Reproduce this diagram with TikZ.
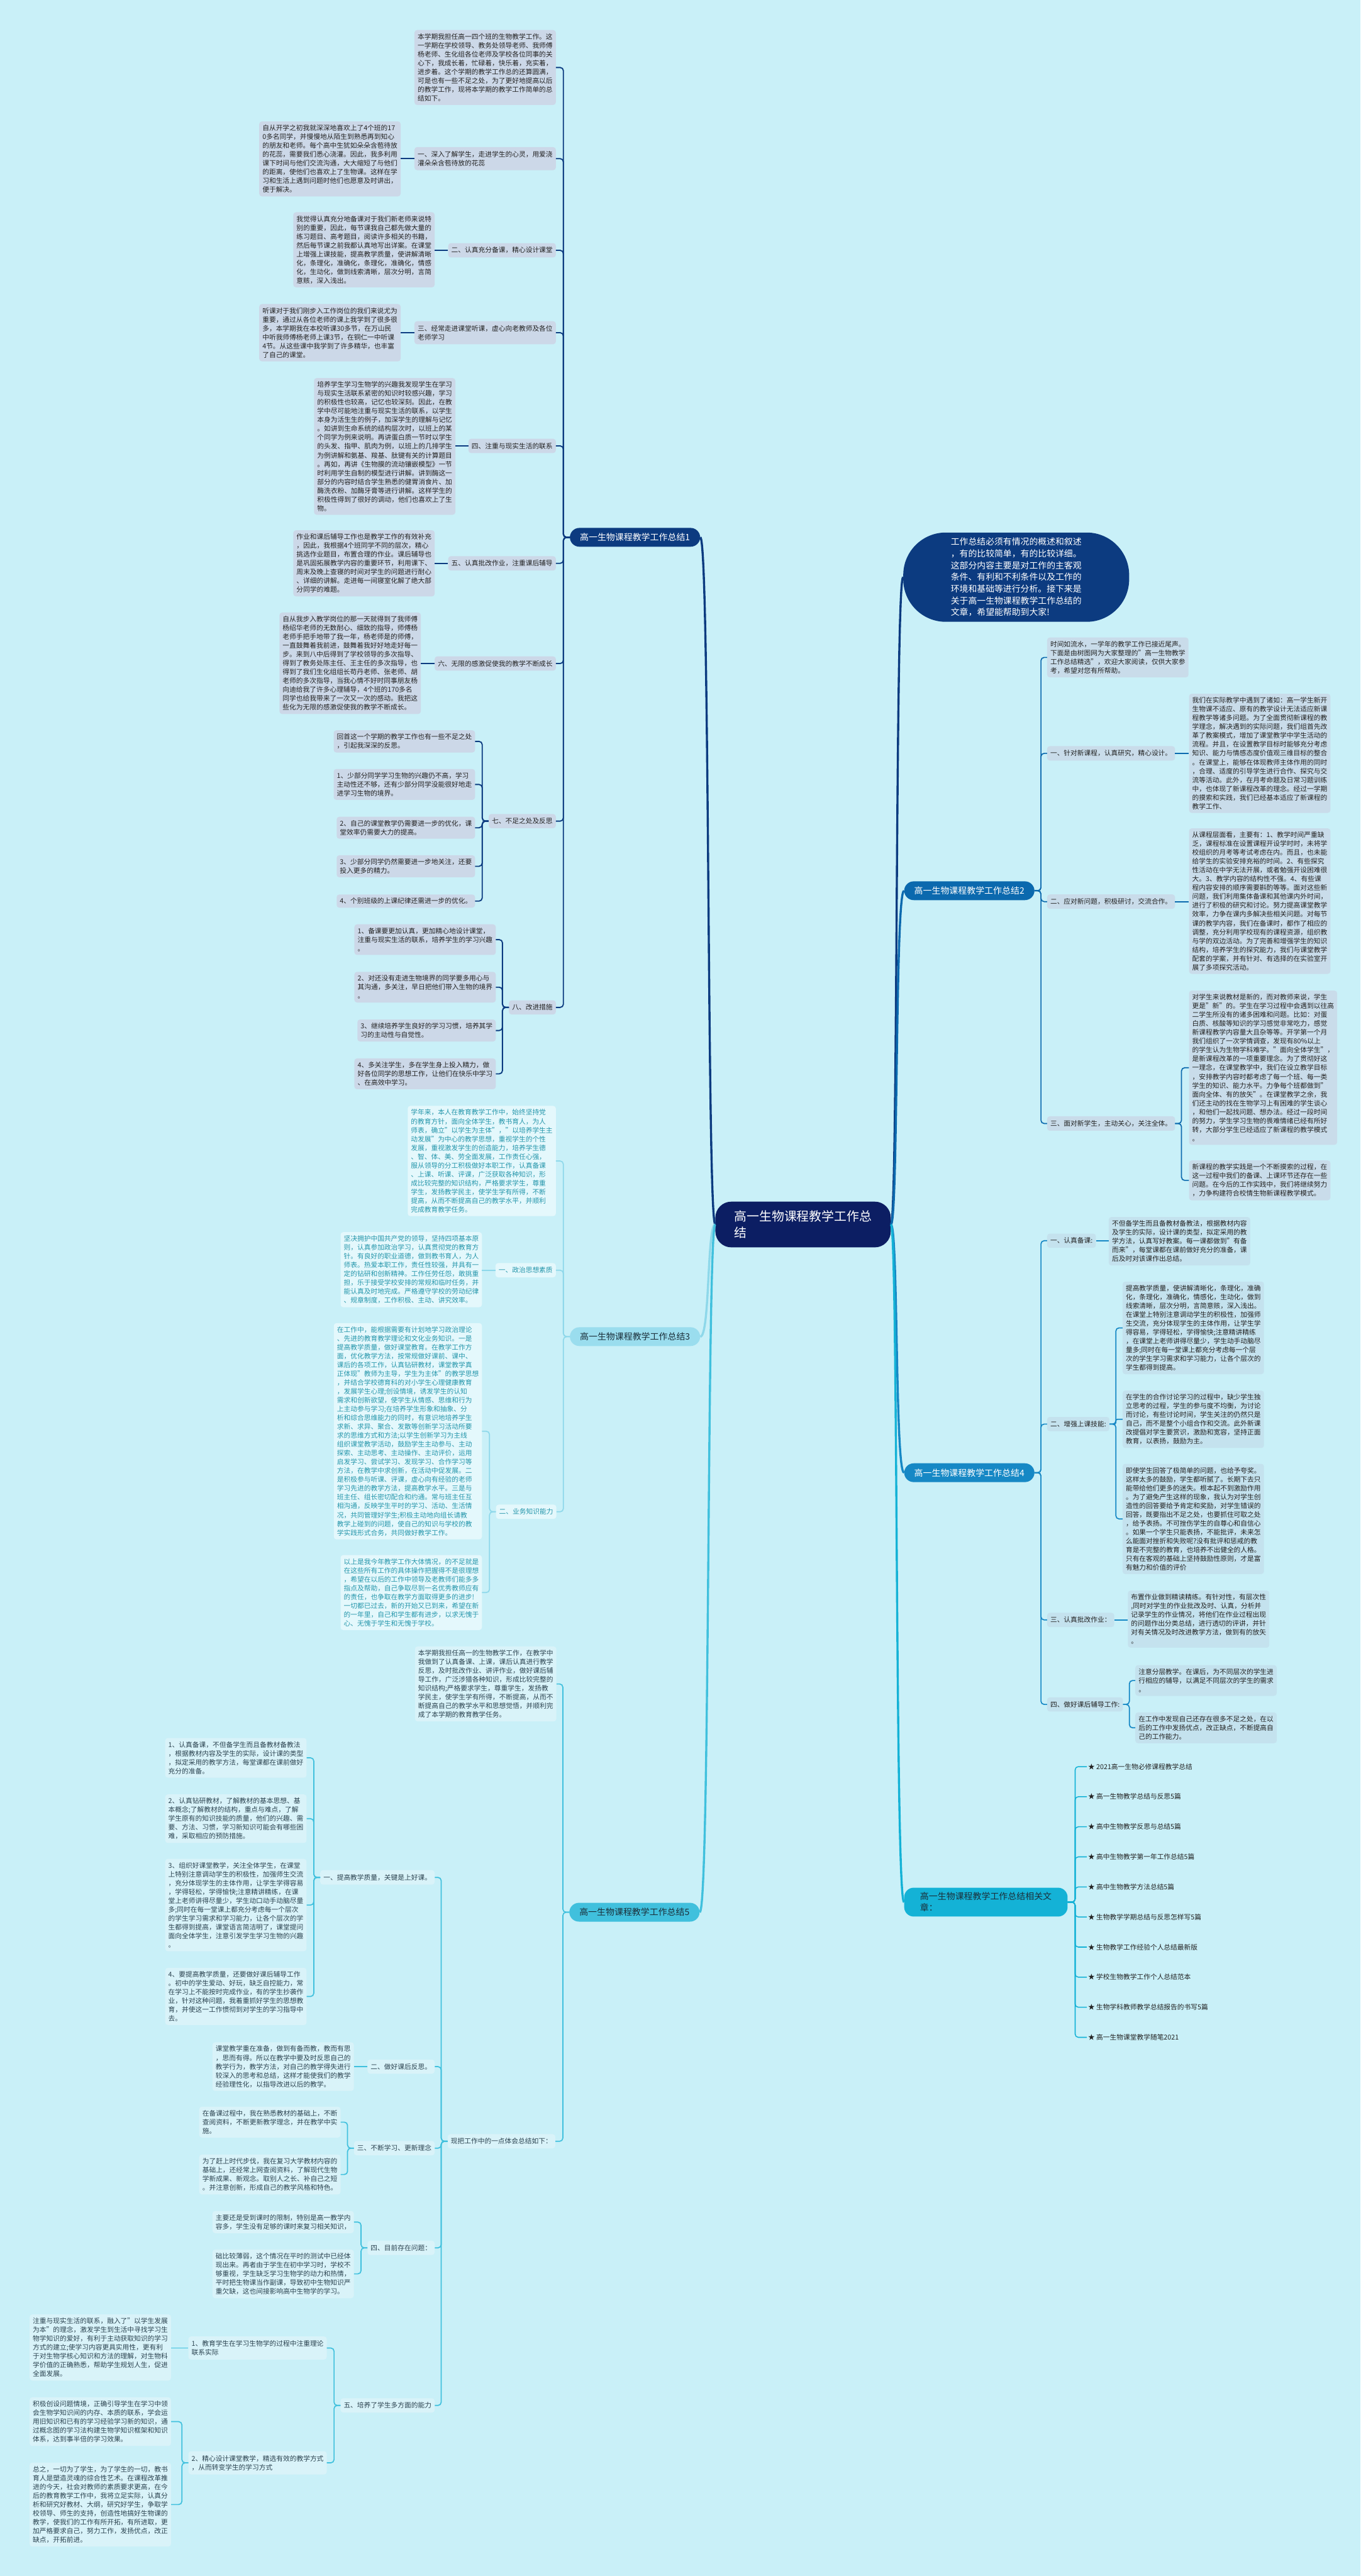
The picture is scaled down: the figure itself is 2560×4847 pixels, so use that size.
\documentclass[tikz,border=0pt]{standalone}
\usepackage{fontspec}
\setmainfont{Noto Sans CJK SC}
\usetikzlibrary{calc}
\definecolor{bg}{HTML}{C9F0F8}
\definecolor{rootc}{HTML}{0C1E63}
\definecolor{c1}{HTML}{0C3B80}
\definecolor{c2}{HTML}{0B69AE}
\definecolor{c3}{HTML}{8ED8EA}
\definecolor{c3n}{HTML}{9ADDEE}
\definecolor{c4}{HTML}{1688C5}
\definecolor{c5}{HTML}{40C0DD}
\definecolor{c6}{HTML}{14B2D6}
\definecolor{f1}{HTML}{CCD8E8}
\definecolor{f2}{HTML}{C9DCEA}
\definecolor{f3}{HTML}{E4F8FC}
\definecolor{t3}{HTML}{2596AB}
\definecolor{f4}{HTML}{C4E2EE}
\definecolor{f5}{HTML}{D9F3F9}
\definecolor{t5}{HTML}{2B4350}
\definecolor{tdark}{HTML}{222222}
\definecolor{tnode}{HTML}{1B2F3A}
\newcommand{\Lc}[3]{\draw[#1] (#2.west) -- ++(-12,0) |- (#3.east);}
\newcommand{\Ls}[3]{\draw[#1] (#2.west) -- (#2.west -| #3.east);}
\newcommand{\Rc}[3]{\draw[#1] (#2.east) -- ++(12,0) |- (#3.west);}
\newcommand{\Rs}[3]{\draw[#1] (#2.east) -- (#2.east -| #3.west);}
\tikzset{
  every node/.style={font=\fontsize{12.7}{16.6}\selectfont},
  L/.style={anchor=east}, R/.style={anchor=west},
  tbox/.style={rounded corners=5, inner xsep=6, inner ysep=6.5, align=left},
  hbox/.style={rounded corners=5, inner xsep=6, inner ysep=7.5, align=left},
  B1/.style={tbox, fill=f1, text=tdark}, H1/.style={hbox, fill=f1, text=tdark},
  B2/.style={tbox, fill=f2, text=tdark}, H2/.style={hbox, fill=f2, text=tdark},
  B3/.style={tbox, fill=f3, text=t3}, H3/.style={hbox, fill=f3, text=t3},
  B4/.style={tbox, fill=f4, text=tdark}, H4/.style={hbox, fill=f4, text=tdark},
  B5/.style={tbox, fill=f5, text=t5}, H5/.style={hbox, fill=f5, text=t5},
  bnode/.style={rounded corners=18, inner xsep=19, inner ysep=10, anchor=west, align=left, font=\fontsize{16.5}{21}\selectfont},
  ln1/.style={draw=c1, line width=2.2, rounded corners=6},
  ln2/.style={draw=c2, line width=2, rounded corners=6},
  ln3/.style={draw=c3, line width=2, rounded corners=6},
  ln4/.style={draw=c4, line width=2, rounded corners=6},
  ln5/.style={draw=c5, line width=2, rounded corners=6},
  ln6/.style={draw=c6, line width=1.8, rounded corners=6},
  item/.style={anchor=west, inner xsep=2, inner ysep=3, text=tdark},
}
\begin{document}
\begin{tikzpicture}[x=1pt,y=-1pt]
\useasboundingbox (0,0) rectangle (2560,4847);
\fill[bg] (0,0) rectangle (2560,4847);

% ---------- root and intro ----------
\node[fill=rootc, text=white, rounded corners=30, minimum width=330, minimum height=86, align=left, font=\fontsize{23.5}{31}\selectfont] (root) at (1511,2304) {高一生物课程教学工作总\\结};
\node[fill=c1, text=white, rounded corners=80, minimum width=425, minimum height=168, align=left, font=\fontsize{16.4}{22.1}\selectfont] (intro) at (1912,1086) {工作总结必须有情况的概述和叙述\\，有的比较简单，有的比较详细。\\这部分内容主要是对工作的主客观\\条件、有利和不利条件以及工作的\\环境和基础等进行分析。接下来是\\关于高一生物课程教学工作总结的\\文章，希望能帮助到大家!};

% ---------- branch nodes ----------
\node[bnode, fill=c1, text=white] (b1) at (1072,1011) {高一生物课程教学工作总结1};
\node[bnode, fill=c3n, text=tnode] (b3) at (1072,2515) {高一生物课程教学工作总结3};
\node[bnode, fill=c5, text=tnode] (b5) at (1071,3598) {高一生物课程教学工作总结5};
\node[bnode, fill=c2, text=white] (b2) at (1701,1676) {高一生物课程教学工作总结2};
\node[bnode, fill=c4, text=white] (b4) at (1701,2771) {高一生物课程教学工作总结4};
\node[bnode, fill=c6, text=tnode, inner xsep=30, inner ysep=9] (b6) at (1701,3579) {高一生物课程教学工作总结相关文\\章：};

% ---------- branch 1 ----------
\node[B1,L] (A) at (1046,127) {本学期我担任高一四个班的生物教学工作。这\\一学期在学校领导、教务处领导老师、我师傅\\杨老师、生化组各位老师及学校各位同事的关\\心下，我成长着，忙碌着，快乐着，充实着，\\进步着。这个学期的教学工作总的还算圆满，\\可是也有一些不足之处，为了更好地提高以后\\的教学工作，现将本学期的教学工作简单的总\\结如下。};
\node[H1,L] (s1) at (1046,298.5) {一、深入了解学生，走进学生的心灵，用爱浇\\灌朵朵含苞待放的花蕊};
\node[B1,L] (s1c) at (754,299) {自从开学之初我就深深地喜欢上了4个班的17\\0多名同学，并慢慢地从陌生到熟悉再到知心\\的朋友和老师。每个高中生犹如朵朵含苞待放\\的花蕊，需要我们悉心浇灌。因此，我多利用\\课下时间与他们交流沟通，大大缩短了与他们\\的距离，使他们也喜欢上了生物课。这样在学\\习和生活上遇到问题时他们也愿意及时讲出，\\便于解决。};
\node[H1,L] (s2) at (1046,471) {二、认真充分备课，精心设计课堂};
\node[B1,L] (s2c) at (818,470) {我觉得认真充分地备课对于我们新老师来说特\\别的重要，因此，每节课我自己都先做大量的\\练习题目、高考题目，阅读许多相关的书籍，\\然后每节课之前我都认真地写出详案。在课堂\\上增强上课技能，提高教学质量，使讲解清晰\\化，条理化，准确化，条理化，准确化，情感\\化，生动化，做到线索清晰，层次分明，言简\\意赅，深入浅出。};
\node[H1,L] (s3) at (1046,626) {三、经常走进课堂听课，虚心向老教师及各位\\老师学习};
\node[B1,L] (s3c) at (754,626) {听课对于我们刚步入工作岗位的我们来说尤为\\重要，通过从各位老师的课上我学到了很多很\\多，本学期我在本校听课30多节，在万山民\\中听我师傅杨老师上课3节，在铜仁一中听课\\4节。从这些课中我学到了许多精华，也丰富\\了自己的课堂。};
\node[H1,L] (s4) at (1046,839) {四、注重与现实生活的联系};
\node[B1,L] (s4c) at (857,840) {培养学生学习生物学的兴趣我发现学生在学习\\与现实生活联系紧密的知识时较感兴趣，学习\\的积极性也较高，记忆也较深刻。因此，在教\\学中尽可能地注重与现实生活的联系，以学生\\本身为活生生的例子，加深学生的理解与记忆\\。如讲到生命系统的结构层次时，以班上的某\\个同学为例来说明。再讲蛋白质一节时以学生\\的头发、指甲、肌肉为例，以班上的几排学生\\为例讲解和氨基、羧基、肽键有关的计算题目\\。再如，再讲《生物膜的流动镶嵌模型》一节\\时利用学生自制的模型进行讲解。讲到酶这一\\部分的内容时结合学生熟悉的健胃消食片、加\\酶洗衣粉、加酶牙膏等进行讲解。这样学生的\\积极性得到了很好的调动，他们也喜欢上了生\\物。};
\node[H1,L] (s5) at (1046,1060) {五、认真批改作业，注重课后辅导};
\node[B1,L] (s5c) at (818,1060) {作业和课后辅导工作也是教学工作的有效补充\\，因此，我根据4个班同学不同的层次，精心\\挑选作业题目，布置合理的作业。课后辅导也\\是巩固拓展教学内容的重要环节，利用课下、\\周末及晚上查寝的时间对学生的问题进行耐心\\、详细的讲解。走进每一间寝室化解了绝大部\\分同学的难题。};
\node[H1,L] (s6) at (1046,1248.5) {六、无限的感激促使我的教学不断成长};
\node[B1,L] (s6c) at (792,1248) {自从我步入教学岗位的那一天就得到了我师傅\\杨绍华老师的无数耐心、细致的指导，师傅杨\\老师手把手地带了我一年，杨老师是的师傅，\\一直鼓舞着我前进，鼓舞着我好好地走好每一\\步。来到八中后得到了学校领导的多次指导、\\得到了教务处陈主任、王主任的多次指导，也\\得到了我们生化组组长苟丹老师、张老师、胡\\老师的多次指导，当我心情不好时同事朋友杨\\向迪给我了许多心理辅导，4个班的170多名\\同学也给我带来了一次又一次的感动。我把这\\些化为无限的感激促使我的教学不断成长。};
\node[H1,L] (s7) at (1046,1545) {七、不足之处及反思};
\node[B1,L] (q1) at (894,1395) {回首这一个学期的教学工作也有一些不足之处\\，引起我深深的反思。};
\node[B1,L] (q2) at (894,1476) {1、少部分同学学习生物的兴趣仍不高，学习\\主动性还不够，还有少部分同学没能很好地走\\进学习生物的境界。};
\node[B1,L] (q3) at (894,1557.5) {2、自己的课堂教学仍需要进一步的优化，课\\堂效率仍需要大力的提高。};
\node[B1,L] (q4) at (894,1630) {3、少部分同学仍然需要进一步地关注，还要\\投入更多的精力。};
\node[B1,L] (q5) at (894,1695.5) {4、个别班级的上课纪律还需进一步的优化。};
\node[H1,L] (s8) at (1046,1895.5) {八、改进措施};
\node[B1,L] (d1) at (933,1768) {1、备课要更加认真，更加精心地设计课堂，\\注重与现实生活的联系，培养学生的学习兴趣\\。};
\node[B1,L] (d2) at (933,1857.5) {2、对还没有走进生物境界的同学要多用心与\\其沟通，多关注，早日把他们带入生物的境界\\。};
\node[B1,L] (d3) at (933,1939) {3、继续培养学生良好的学习习惯，培养其学\\习的主动性与自觉性。};
\node[B1,L] (d4) at (933,2020.5) {4、多关注学生，多在学生身上投入精力，做\\好各位同学的思想工作，让他们在快乐中学习\\、在高效中学习。};

% ---------- branch 3 ----------
\node[B3,L] (t0) at (1046,2184.5) {学年来，本人在教育教学工作中，始终坚持党\\的教育方针，面向全体学生，教书育人，为人\\师表，确立"以学生为主体"，"以培养学生主\\动发展"为中心的教学思想，重视学生的个性\\发展，重视激发学生的创造能力，培养学生德\\、智、体、美、劳全面发展，工作责任心强，\\服从领导的分工积极做好本职工作，认真备课\\、上课、听课、评课，广泛获取各种知识，形\\成比较完整的知识结构，严格要求学生，尊重\\学生，发扬教学民主，使学生学有所得，不断\\提高，从而不断提高自己的教学水平，并顺利\\完成教育教学任务。};
\node[H3,L] (t1) at (1046,2390) {一、政治思想素质};
\node[B3,L] (t1c) at (907,2389) {坚决拥护中国共产党的领导，坚持四项基本原\\则，认真参加政治学习，认真贯彻党的教育方\\针。有良好的职业道德，做到教书育人，为人\\师表。热爱本职工作，责任性较强，并具有一\\定的钻研和创新精神。工作任劳任怨，敢挑重\\担，乐于接受学校安排的常规和临时任务，并\\能认真及时地完成。严格遵守学校的劳动纪律\\、规章制度，工作积极、主动、讲究效率。};
\node[H3,L] (t2) at (1047,2844.5) {二、业务知识能力};
\node[B3,L] (t2a) at (907,2693) {在工作中，能根据需要有计划地学习政治理论\\、先进的教育教学理论和文化业务知识。一是\\提高教学质量，做好课堂教育。在教学工作方\\面，优化教学方法，按常规做好课前、课中、\\课后的各项工作，认真钻研教材，课堂教学真\\正体现"教师为主导，学生为主体"的教学思想\\，并结合学校德育科的对小学生心理健康教育\\，发展学生心理;创设情境，诱发学生的认知\\需求和创新欲望，使学生从情感、思维和行为\\上主动参与学习;在培养学生形象和抽象、分\\析和综合思维能力的同时，有意识地培养学生\\求新、求异、聚合、发散等创新学习活动所要\\求的思维方式和方法;以学生创新学习为主线\\组织课堂教学活动，鼓励学生主动参与、主动\\探索、主动思考、主动操作、主动评价，运用\\启发学习、尝试学习、发现学习、合作学习等\\方法，在教学中求创新，在活动中促发展。二\\是积极参与听课、评课，虚心向有经验的老师\\学习先进的教学方法，提高教学水平。三是与\\班主任、组长密切配合和约通。常与班主任互\\相沟通，反映学生平时的学习、活动、生活情\\况，共同管理好学生;积极主动地向组长请教\\教学上碰到的问题，使自己的知识与学校的教\\学实践形式合务，共同做好教学工作。};
\node[B3,L] (t2b) at (907,2996.5) {以上是我今年教学工作大体情况，的不足就是\\在这些所有工作的具体操作把握得不是很理想\\，希望在以后的工作中领导及老教师们能多多\\指点及帮助，自己争取尽到一名优秀教师应有\\的责任，也争取在教学方面取得更多的进步!\\一切都已过去，新的开始又已到来，希望在新\\的一年里，自己和学生都有进步，以求无愧于\\心、无愧于学生和无愧于学校。};

% ---------- branch 5 ----------
\node[B5,L] (u0) at (1047,3168.5) {本学期我担任高一的生物教学工作，在教学中\\我做到了认真备课、上课，课后认真进行教学\\反思，及时批改作业、讲评作业，做好课后辅\\导工作，广泛涉猎各种知识，形成比较完整的\\知识结构;严格要求学生，尊重学生，发扬教\\学民主，使学生学有所得，不断提高，从而不\\断提高自己的教学水平和思想觉悟，并顺利完\\成了本学期的教育教学任务。};
\node[H5,L] (u1) at (1045,4029) {现把工作中的一点体会总结如下：};
\node[H5,L] (v1) at (818,3532.5) {一、提高教学质量，关键是上好课。};
\node[B5,L] (e1) at (577,3307.5) {1、认真备课，不但备学生而且备教材备教法\\，根据教材内容及学生的实际，设计课的类型\\，拟定采用的教学方法，每堂课都在课前做好\\充分的准备。};
\node[B5,L] (e2) at (577,3422) {2、认真钻研教材，了解教材的基本思想、基\\本概念;了解教材的结构，重点与难点，了解\\学生原有的知识技能的质量，他们的兴趣、需\\要、方法、习惯，学习新知识可能会有哪些困\\难，采取相应的预防措施。};
\node[B5,L] (e3) at (577,3584.5) {3、组织好课堂教学，关注全体学生，在课堂\\上特别注意调动学生的积极性，加强师生交流\\，充分体现学生的主体作用，让学生学得容易\\，学得轻松，学得愉快;注意精讲精练，在课\\堂上老师讲得尽量少，学生动口动手动脑尽量\\多;同时在每一堂课上都充分考虑每一个层次\\的学生学习需求和学习能力，让各个层次的学\\生都得到提高，课堂语言简洁明了，课堂提问\\面向全体学生，注意引发学生学习生物的兴趣\\。};
\node[B5,L] (e4) at (577,3756.5) {4、要提高教学质量，还要做好课后辅导工作\\。初中的学生爱动、好玩，缺乏自控能力，常\\在学习上不能按时完成作业，有的学生抄袭作\\业，针对这种问题，我着重抓好学生的思想教\\育，并使这一工作惯彻到对学生的学习指导中\\去。};
\node[H5,L] (v2) at (818,3888.5) {二、做好课后反思。};
\node[B5,L] (v2c) at (666,3888.5) {课堂教学重在准备，做到有备而教，教而有思\\，思而有得。所以在教学中要及时反思自己的\\教学行为，教学方法，对自己的教学得失进行\\较深入的思考和总结，这样才能使我们的教学\\经验理性化，以指导改进以后的教学。};
\node[H5,L] (v3) at (818,4042) {三、不断学习、更新理念};
\node[B5,L] (g1) at (641,3993) {在备课过程中，我在熟悉教材的基础上，不断\\查阅资料，不断更新教学理念，并在教学中实\\施。};
\node[B5,L] (g2) at (641,4091.5) {为了赶上时代步伐，我在复习大学教材内容的\\基础上，还经常上网查阅资料，了解现代生物\\学新成果、新观念。取别人之长、补自己之短\\。并注意创新，形成自己的教学风格和特色。};
\node[H5,L] (v4) at (818,4229.5) {四、目前存在问题：};
\node[B5,L] (p1) at (666,4181) {主要还是受到课时的限制，特别是高一教学内\\容多，学生没有足够的课时来复习相关知识，};
\node[B5,L] (p2) at (666,4278.5) {础比较薄弱，这个情况在平时的测试中已经体\\现出来。再者由于学生在初中学习时，学校不\\够重视，学生缺乏学习生物学的动力和热情，\\平时把生物课当作副课，导致初中生物知识严\\重欠缺，这也间接影响高中生物学的学习。};
\node[H5,L] (v5) at (818,4526) {五、培养了学生多方面的能力};
\node[H5,L] (h1) at (615,4418) {1、教育学生在学习生物学的过程中注重理论\\联系实际};
\node[B5,L] (h1c) at (322,4417) {注重与现实生活的联系，融入了"以学生发展\\为本"的理念，激发学生到生活中寻找学习生\\物学知识的爱好，有利于主动获取知识的学习\\方式的建立;使学习内容更具实用性，更有利\\于对生物学核心知识和方法的理解，对生物科\\学价值的正确熟悉，帮助学生规划人生，促进\\全面发展。};
\node[H5,L] (h2) at (615,4634) {2、精心设计课堂教学，精选有效的教学方式\\，从而转变学生的学习方式};
\node[B5,L] (i1) at (322,4556.5) {积极创设问题情境，正确引导学生在学习中领\\会生物学知识间的内存、本质的联系，学会运\\用旧知识和已有的学习经验学习新的知识，通\\过概念图的学习法构建生物学知识框架和知识\\体系，达到事半倍的学习效果。};
\node[B5,L] (i2) at (322,4712.5) {总之，一切为了学生，为了学生的一切，教书\\育人是塑造灵魂的综合性艺术。在课程改革推\\进的今天，社会对教师的素质要求更高，在今\\后的教育教学工作中，我将立足实际，认真分\\析和研究好教材、大纲，研究好学生，争取学\\校领导、师生的支持，创造性地搞好生物课的\\教学，使我们的工作有所开拓，有所进取，更\\加严格要求自己，努力工作，发扬优点，改正\\缺点，开拓前进。};

% ---------- branch 2 ----------
\node[B2,R] (j0) at (1970,1237) {时间如流水，一学年的教学工作已接近尾声。\\下面是由树图网为大家整理的"高一生物教学\\工作总结精选"，欢迎大家阅读，仅供大家参\\考，希望对您有所帮助。};
\node[H2,R] (j1) at (1970,1417.5) {一、针对新课程，认真研究，精心设计。};
\node[B2,R] (j1c) at (2237,1417.5) {我们在实际教学中遇到了诸如：高一学生新开\\生物课不适应、原有的教学设计无法适应新课\\程教学等诸多问题。为了全面贯彻新课程的教\\学理念，解决遇到的实际问题，我们组首先改\\革了教案模式，增加了课堂教学中学生活动的\\流程。并且，在设置教学目标时能够充分考虑\\知识、能力与情感态度价值观三维目标的整合\\。在课堂上，能够在体现教师主体作用的同时\\，合理、适度的引导学生进行合作、探究与交\\流等活动。此外，在月考命题及日常习题训练\\中，也体现了新课程改革的理念。经过一学期\\的摸索和实践，我们已经基本适应了新课程的\\教学工作、};
\node[H2,R] (j2) at (1970,1696.5) {二、应对新问题，积极研讨，交流合作。};
\node[B2,R] (j2c) at (2237,1695.5) {从课程层面看，主要有：1、教学时间严重缺\\乏，课程标准在设置课程开设学时时，未将学\\校组织的月考等考试考虑在内。而且，也未能\\给学生的实验安排充裕的时间。2、有些探究\\性活动在中学无法开展，或者勉强开设困难很\\大。3、教学内容的结构性不强。4、有些课\\程内容安排的顺序需要斟酌等等。面对这些新\\问题，我们利用集体备课和其他课内外时间，\\进行了积极的研究和讨论。努力提高课堂教学\\效率，力争在课内多解决些相关问题。对每节\\课的教学内容，我们在备课时，都作了相应的\\调整，充分利用学校现有的课程资源，组织教\\与学的双边活动。为了完善和增强学生的知识\\结构，培养学生的探究能力，我们与课堂教学\\配套的学案，并有针对、有选择的在实验室开\\展了多项探究活动。};
\node[H2,R] (j3) at (1970,2114) {三、面对新学生，主动关心，关注全体。};
\node[B2,R] (k1) at (2237,2009) {对学生来说教材是新的，而对教师来说，学生\\更是"新"的。学生在学习过程中会遇到以往高\\二学生所没有的诸多困难和问题。比如：对蛋\\白质、核酸等知识的学习感觉非常吃力，感觉\\新课程教学内容量大且杂等等。开学第一个月\\我们组织了一次学情调查，发现有80\%以上\\的学生认为生物学科难学。"面向全体学生"，\\是新课程改革的一项重要理念。为了贯彻好这\\一理念，在课堂教学中，我们在设立教学目标\\，安排教学内容时都考虑了每一个班、每一类\\学生的知识、能力水平。力争每个班都做到"\\面向全体、有的放矢"。在课堂教学之余，我\\们还主动的找在生物学习上有困难的学生谈心\\，和他们一起找问题、想办法。经过一段时间\\的努力，学生学习生物的畏难情绪已经有所好\\转，大部分学生已经适应了新课程的教学模式\\。};
\node[B2,R] (k2) at (2237,2221) {新课程的教学实践是一个不断摸索的过程，在\\这一过程中我们的备课、上课环节还存在一些\\问题。在今后的工作实践中，我们将继续努力\\，力争构建符合校情生物新课程教学模式。};

% ---------- branch 4 ----------
\node[H4,R] (l1) at (1970,2334.5) {一、认真备课:};
\node[B4,R] (l1c) at (2086,2335.5) {不但备学生而且备教材备教法，根据教材内容\\及学生的实际，设计课的类型，拟定采用的教\\学方法，认真写好教案。每一课都做到"有备\\而来"，每堂课都在课前做好充分的准备，课\\后及时对该课作出总结。};
\node[H4,R] (l2) at (1970,2679.5) {二、增强上课技能:};
\node[B4,R] (m1) at (2112,2498.5) {提高教学质量，使讲解清晰化，条理化，准确\\化，条理化，准确化，情感化，生动化，做到\\线索清晰，层次分明，言简意赅，深入浅出。\\在课堂上特别注意调动学生的积极性，加强师\\生交流，充分体现学生的主体作用，让学生学\\得容易，学得轻松，学得愉快;注意精讲精练\\，在课堂上老师讲得尽量少，学生动手动脑尽\\量多;同时在每一堂课上都充分考虑每一个层\\次的学生学习需求和学习能力，让各个层次的\\学生都得到提高。};
\node[B4,R] (m2) at (2112,2670.5) {在学生的合作讨论学习的过程中，缺少学生独\\立思考的过程，学生的参与度不均衡，为讨论\\而讨论，有些讨论时间，学生关注的仍然只是\\自己，而不是整个小组合作和交流。此外新课\\改提倡对学生要赏识，激励和宽容，坚持正面\\教育，以表扬，鼓励为主。};
\node[B4,R] (m3) at (2112,2858) {即使学生回答了极简单的问题，也给予夸奖。\\这样太多的鼓励，学生都听腻了。长期下去只\\能带给他们更多的迷失。根本起不到激励作用\\。为了避免产生这样的现象，我认为对学生创\\造性的回答要给予肯定和奖励，对学生错误的\\回答，既要指出不足之处，也要抓住可取之处\\，给予表扬。不可挫伤学生的自尊心和自信心\\。如果一个学生只能表扬，不能批评，未来怎\\么能面对挫折和失败呢?没有批评和惩戒的教\\育是不完整的教育，也培养不出健全的人格。\\只有在客观的基础上坚持鼓励性原则，才是富\\有魅力和价值的评价};
\node[H4,R] (l3) at (1970,3048) {三、认真批改作业：};
\node[B4,R] (l3c) at (2122,3046.5) {布置作业做到精读精练。有针对性，有层次性\\,同时对学生的作业批改及时、认真，分析并\\记录学生的作业情况，将他们在作业过程出现\\的问题作出分类总结，进行透切的评讲，并针\\对有关情况及时改进教学方法，做到有的放矢\\。};
\node[H4,R] (l4) at (1970,3207) {四、做好课后辅导工作:};
\node[B4,R] (n1) at (2136,3162) {注意分层教学。在课后，为不同层次的学生进\\行相应的辅导，以满足不同层次的学生的需求\\。};
\node[B4,R] (n2) at (2136,3251) {在工作中发现自己还存在很多不足之处，在以\\后的工作中发扬优点，改正缺点，不断提高自\\己的工作能力。};

% ---------- branch 6 ----------
\node[item] (it1) at (2045,3324) {★ 2021高一生物必修课程教学总结};
\node[item] (it2) at (2045,3380.6) {★ 高一生物教学总结与反思5篇};
\node[item] (it3) at (2045,3437.2) {★ 高中生物教学反思与总结5篇};
\node[item] (it4) at (2045,3493.8) {★ 高中生物教学第一年工作总结5篇};
\node[item] (it5) at (2045,3550.4) {★ 高中生物教学方法总结5篇};
\node[item] (it6) at (2045,3607) {★ 生物教学学期总结与反思怎样写5篇};
\node[item] (it7) at (2045,3663.6) {★ 生物教学工作经验个人总结最新版};
\node[item] (it8) at (2045,3720.2) {★ 学校生物教学工作个人总结范本};
\node[item] (it9) at (2045,3776.8) {★ 生物学科教师教学总结报告的书写5篇};
\node[item] (it10) at (2045,3833.4) {★ 高一生物课堂教学随笔2021};

% ---------- root connectors ----------
\draw[c1, line width=4] (root.west) .. controls (1330,2304) and (1336,1011) .. (b1.east);
\draw[c3, line width=4] (root.west) .. controls (1330,2304) and (1336,2515) .. (b3.east);
\draw[c5, line width=4] (root.west) .. controls (1330,2304) and (1336,3598) .. (b5.east);
\draw[c1, line width=4] (root.east) .. controls (1690,2304) and (1684,1086) .. (intro.west);
\draw[c2, line width=4] (root.east) .. controls (1690,2304) and (1684,1676) .. (b2.west);
\draw[c4, line width=4] (root.east) .. controls (1690,2304) and (1684,2771) .. (b4.west);
\draw[c6, line width=4] (root.east) .. controls (1690,2304) and (1684,3579) .. (b6.west);

% ---------- branch 1 connectors ----------
\foreach \n in {A,s1,s2,s3,s4,s5,s6,s7,s8} {\Lc{ln1}{b1}{\n}}
\Ls{ln1}{s1}{s1c} \Ls{ln1}{s2}{s2c} \Ls{ln1}{s3}{s3c}
\Ls{ln1}{s4}{s4c} \Ls{ln1}{s5}{s5c} \Ls{ln1}{s6}{s6c}
\foreach \n in {q1,q2,q3,q4,q5} {\Lc{ln1}{s7}{\n}}
\foreach \n in {d1,d2,d3,d4} {\Lc{ln1}{s8}{\n}}

% ---------- branch 3 connectors ----------
\foreach \n in {t0,t1,t2} {\Lc{ln3}{b3}{\n}}
\Ls{ln3}{t1}{t1c}
\foreach \n in {t2a,t2b} {\Lc{ln3}{t2}{\n}}

% ---------- branch 5 connectors ----------
\foreach \n in {u0,u1} {\Lc{ln5}{b5}{\n}}
\foreach \n in {v1,v2,v3,v4,v5} {\Lc{ln5}{u1}{\n}}
\foreach \n in {e1,e2,e3,e4} {\Lc{ln5}{v1}{\n}}
\Ls{ln5}{v2}{v2c}
\foreach \n in {g1,g2} {\Lc{ln5}{v3}{\n}}
\foreach \n in {p1,p2} {\Lc{ln5}{v4}{\n}}
\foreach \n in {h1,h2} {\Lc{ln5}{v5}{\n}}
\Ls{ln5}{h1}{h1c}
\foreach \n in {i1,i2} {\Lc{ln5}{h2}{\n}}

% ---------- branch 2 connectors ----------
\foreach \n in {j0,j1,j2,j3} {\Rc{ln2}{b2}{\n}}
\Rs{ln2}{j1}{j1c} \Rs{ln2}{j2}{j2c}
\foreach \n in {k1,k2} {\Rc{ln2}{j3}{\n}}

% ---------- branch 4 connectors ----------
\foreach \n in {l1,l2,l3,l4} {\Rc{ln4}{b4}{\n}}
\Rs{ln4}{l1}{l1c} \Rs{ln4}{l3}{l3c}
\Rc{ln4}{l2}{m1} \Rc{ln4}{l2}{m3}
\draw[ln4, rounded corners=3] (l2.east) -- ++(12,0) |- (m2.west);
\foreach \n in {n1,n2} {\Rc{ln4}{l4}{\n}}

% ---------- branch 6 connectors ----------
\foreach \n in {it1,it2,it3,it4,it5,it6,it7,it8,it9,it10} {\draw[ln6] (b6.east) -- ++(14,0) |- (\n.west);}
\end{tikzpicture}
\end{document}
